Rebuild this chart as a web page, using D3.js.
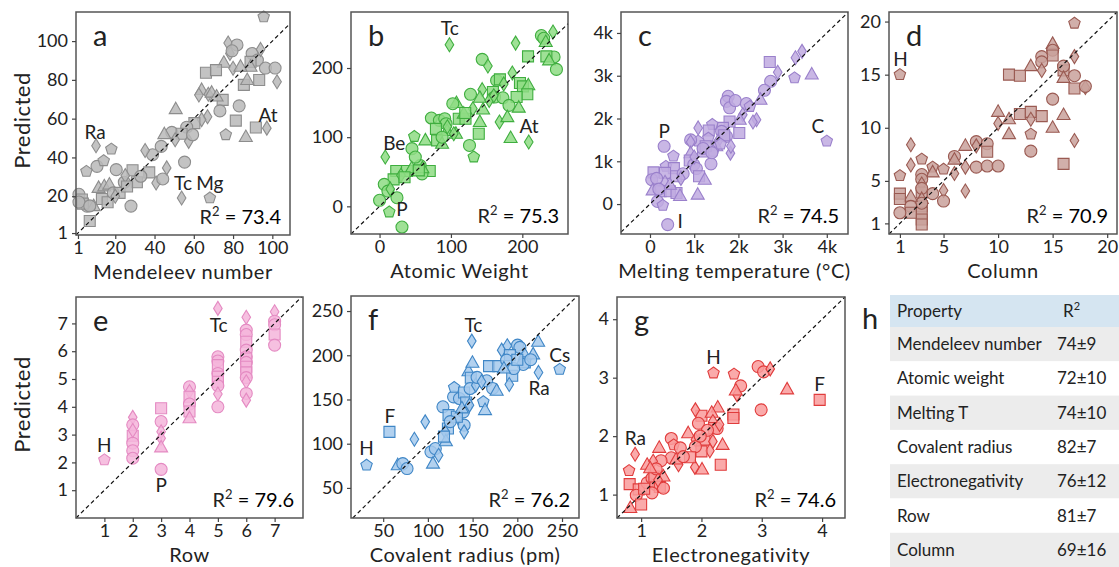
<!DOCTYPE html>
<html>
<head>
<meta charset="utf-8">
<script src="https://cdn.jsdelivr.net/npm/d3@7"></script>
<style>
  body { margin: 0; background: #fff; }
  svg text { font-family: Lato, "Open Sans", sans-serif; fill: #222; }
</style>
</head>
<body>
<svg id="fig" width="1119" height="567"></svg>
<script>
// shape codes: o circle, s square, ^ triangle, d diamond, p pentagon
// [actual, predicted, shape]
const mendeleevPts = [
  [95.6,112.5,"p"],[77.5,99,"d"],[82,98,"o"],[78.4,93.6,"d"],[79.5,95,"o"],[75.3,88.8,"^"],[66.2,83.7,"s"],[71.3,85,"s"],
  [80,86,"d"],[89.7,93.6,"o"],[92.4,90.2,"o"],[94,95.7,"d"],[88.9,89.3,"s"],[88.9,86.8,"^"],[83.8,86.8,"^"],[96.5,86.1,"o"],
  [101.4,86.1,"o"],[85.5,77.4,"s"],[93.3,79.9,"s"],[87.2,79.9,"^"],[102.4,79,"d"],[64,74.8,"^"],[67.4,72.6,"d"],[62.6,72.2,"d"],
  [69.1,73.4,"^"],[74.7,69.7,"s"],[71.6,71.4,"^"],[73.3,64,"o"],[83.1,66.6,"o"],[81.4,59,"s"],[91.6,55.4,"s"],[97.2,55.1,"d"],
  [86.5,50.5,"^"],[76.3,51.7,"p"],[67,61,"d"],[64,59.5,"d"],[60.3,57.7,"s"],[50.8,64.9,"^"],[56.4,55.6,"o"],[48.8,52.9,"o"],
  [45,52,"^"],[53.8,52.2,"s"],[50.5,49.1,"d"],[57.4,48.3,"d"],[59.4,51.7,"o"],[39,41.4,"o"],[35.2,43.6,"d"],[43.4,45.7,"o"],
  [37.3,32.3,"s"],[28.8,33.4,"s"],[31,27.2,"s"],[33,30.3,"o"],[40.8,26.8,"d"],[44.2,28.9,"o"],[46.2,34.6,"d"],[55.3,37.6,"o"],
  [53.8,19.1,"d"],[68.2,19.1,"p"],[20.5,33.7,"o"],[10.7,35.4,"o"],[5.3,32.8,"p"],[14.1,38.3,"p"],[18,44.3,"p"],[10.2,46,"d"],
  [5.6,14.9,"o"],[1.5,21,"o"],[3,18.3,"s"],[3.5,16.2,"s"],[9,14.9,"^"],[11.5,24.3,"^"],[14.4,25.1,"^"],[17,26,"^"],
  [13.2,18.6,"s"],[16.1,16.9,"s"],[19,21.7,"o"],[22.2,21.7,"s"],[24.6,27.2,"o"],[25.1,30.6,"d"],[7,7.2,"s"],[28,14.9,"o"],
  [20,20,"d"],[26,25,"s"],[1.5,17,"o"],[7,15,"o"]
];
const weightPts = [
  [97.9,233.7,"d"],[190.6,236,"d"],[226.7,247,"o"],[230,243,"o"],[232.8,237.6,"^"],[243,252,"d"],[244.5,216,"o"],[233.7,216.9,"s"],
  [237.5,211,"^"],[247.8,198,"o"],[208,216.9,"s"],[143.8,212.5,"o"],[151.8,202.9,"d"],[186,192.8,"d"],[164,182,"o"],[168.6,183.6,"s"],
  [174,177,"d"],[196.7,178.3,"s"],[200.9,173.5,"s"],[208.4,175,"^"],[207,162,"s"],[192,158,"s"],[195,142.7,"^"],[143.8,168.7,"d"],
  [140.5,157,"^"],[158.8,165.3,"s"],[161.1,158,"o"],[153.6,153,"d"],[172.8,157,"o"],[181.3,146,"o"],[127.4,162,"o"],[107.7,149.4,"^"],
  [102.6,148.4,"o"],[130.7,141,"d"],[111,126.7,"s"],[120.4,126.7,"s"],[118,134,"^"],[140.5,122,"^"],[168,122,"d"],[179,129,"^"],
  [139,105,"s"],[183.6,98.8,"^"],[209,93,"d"],[72.6,127.7,"o"],[83.8,124.3,"o"],[91.3,126.7,"o"],[93.2,119.5,"o"],[79,112,"s"],
  [94.6,108.9,"^"],[107,105,"^"],[126,88,"o"],[132,71.3,"p"],[104,105,"d"],[64.2,95.4,"^"],[48.7,101,"p"],[45.4,83.4,"o"],
  [80.6,95.4,"s"],[87.6,90.6,"^"],[87.6,100,"o"],[23.4,51,"s"],[38.4,51,"s"],[70.3,51,"s"],[19.7,39,"s"],[57,59,"o"],
  [59.5,47,"o"],[50.1,71.3,"o"],[8,71.3,"d"],[6.6,31.8,"o"],[11.7,22,"o"],[24.4,12.5,"o"],[0,8.7,"o"],[13.6,-8.2,"p"],
  [31.4,-29.9,"o"],[30,45,"d"],[45,55,"^"],[60,55,"^"],[15,25,"d"],[35,42,"s"],[55,52,"s"],[95,115,"d"],
  [120,135,"s"],[145,140,"^"],[160,160,"d"]
];
const meltingPts = [
  [3440,3570,"d"],[3290,3420,"d"],[2710,3320,"s"],[2890,3080,"d"],[3270,2950,"p"],[3660,3030,"^"],[2730,2870,"o"],[2590,2660,"o"],
  [2500,2440,"^"],[1770,2520,"o"],[1730,2400,"o"],[1800,2250,"o"],[1930,2420,"o"],[2180,2350,"o"],[2260,2280,"p"],[2100,2090,"d"],
  [2030,1970,"^"],[2410,1970,"d"],[2330,1920,"d"],[1800,1930,"s"],[1650,1780,"s"],[2020,1660,"s"],[1090,1780,"d"],[1410,1860,"p"],
  [1330,1720,"s"],[1620,1700,"o"],[1730,1580,"o"],[1680,1610,"s"],[1540,1470,"d"],[1200,1230,"s"],[1090,1470,"p"],[920,1500,"o"],
  [920,1450,"d"],[1320,1540,"p"],[1820,1190,"d"],[1830,1350,"d"],[1500,1350,"^"],[1430,1230,"p"],[1260,1350,"s"],[920,1190,"^"],
  [900,1020,"s"],[990,920,"o"],[1050,830,"o"],[1380,940,"o"],[1110,650,"s"],[1240,570,"^"],[1080,220,"^"],[320,1350,"o"],
  [530,1120,"p"],[360,880,"p"],[540,840,"s"],[80,740,"s"],[340,730,"s"],[40,570,"o"],[340,510,"^"],[590,650,"s"],
  [750,710,"o"],[60,320,"^"],[240,300,"s"],[450,300,"s"],[600,260,"s"],[680,190,"^"],[170,60,"o"],[290,-30,"p"],
  [400,-480,"o"],[4000,1470,"p"],[1200,1300,"o"],[1000,1100,"d"],[1400,1200,"o"],[1600,1400,"p"],[700,600,"d"],[150,600,"o"],
  [450,450,"^"],[200,350,"o"]
];
const columnPts = [
  [1,15,"p"],[17,19.84,"p"],[15,17.9,"^"],[15,17.3,"o"],[15,16.8,"s"],[17,16.7,"d"],[14,16.7,"o"],[14,16.2,"o"],
  [14,15.4,"d"],[13,15.8,"^"],[11,15,"s"],[12,14.9,"s"],[16,15.4,"s"],[16,15.8,"o"],[16,14.7,"^"],[17,14.9,"o"],
  [17,13.7,"s"],[18,13.8,"d"],[18,13.9,"o"],[15,12.7,"o"],[16,11.2,"^"],[17,8.8,"d"],[16,6.6,"s"],[12,11.3,"s"],
  [13,11.5,"s"],[13,10.8,"d"],[14,11.1,"s"],[15,10,"^"],[13,9.4,"p"],[13,7.8,"o"],[10,11.5,"^"],[10,10.4,"d"],
  [11,10.8,"^"],[11,9.4,"^"],[7,8.3,"^"],[8,8.7,"o"],[8,8.3,"d"],[9,8.5,"o"],[9,7.75,"s"],[8,6.3,"o"],
  [9,6.4,"o"],[10,6.4,"o"],[7,6.3,"d"],[7,4.05,"d"],[6,7.3,"o"],[6,7,"^"],[6,5.7,"d"],[5,6.1,"p"],
  [5,4.1,"d"],[5,3.1,"o"],[4,6.3,"p"],[4,5.8,"^"],[4,3.8,"o"],[3,7.05,"p"],[3,5.6,"o"],[3,5.15,"o"],
  [3,4.7,"d"],[3,3.9,"s"],[3,4.3,"o"],[3,3.3,"^"],[3,2.6,"s"],[3,2.0,"s"],[3,1.37,"s"],[3,0.9,"s"],
  [3,2.9,"o"],[2,8.4,"d"],[2,6.5,"d"],[2,3.5,"^"],[2,2.6,"o"],[2,2.0,"s"],[1,5.5,"p"],[1,3.8,"s"],
  [1,3.3,"s"],[1,2.0,"o"]
];
const rowPts = [
  [1,2.09,"p"],[2,3.62,"d"],[2,3.35,"o"],[2,2.96,"s"],[2,2.69,"o"],[2,2.42,"o"],[2,2.15,"o"],[2,3.15,"d"],
  [3,3.95,"s"],[3,3.47,"o"],[3,3.1,"d"],[3,2.87,"d"],[3,2.54,"^"],[3,1.75,"o"],[4,4.72,"o"],[4,4.55,"d"],
  [4,4.36,"s"],[4,4.1,"o"],[4,3.83,"s"],[4,3.59,"^"],[5,7.54,"d"],[5,5.8,"o"],[5,5.65,"o"],[5,5.5,"s"],
  [5,5.2,"o"],[5,5.08,"s"],[5,4.9,"s"],[5,4.76,"o"],[5,4.46,"d"],[5,4.0,"o"],[6,7.22,"d"],[6,6.76,"o"],
  [6,6.6,"o"],[6,6.34,"s"],[6,6.04,"o"],[6,5.8,"o"],[6,5.74,"s"],[6,5.6,"o"],[6,5.44,"s"],[6,5.24,"s"],
  [6,5.05,"o"],[6,4.9,"d"],[6,4.48,"o"],[6,4.24,"d"],[7,7.42,"d"],[7,7.08,"o"],[7,6.95,"o"],[7,6.6,"s"],
  [7,6.22,"o"]
];
const radiusPts = [
  [31.4,75.7,"p"],[57,113.4,"s"],[66.3,75.7,"^"],[71.9,77.5,"o"],[76.7,71.9,"o"],[84.9,105,"d"],[97,124.7,"d"],[103.4,90.8,"o"],
  [108.3,94.5,"o"],[112,87,"d"],[105.7,77.5,"^"],[116.8,141.7,"o"],[123.1,132.3,"s"],[122.4,117.2,"s"],[119.4,113.4,"d"],[120.1,102.8,"^"],
  [128.7,153,"o"],[129.4,163.6,"p"],[135.3,151.1,"o"],[140.5,157.9,"s"],[142.8,146.6,"s"],[134.2,128.5,"d"],[140.5,121,"o"],[140.5,113.4,"d"],
  [139.8,136,"o"],[132.4,130.4,"s"],[146.5,143.6,"d"],[145.4,182,"^"],[149.8,191.5,"^"],[149.1,216,"d"],[148,174.5,"s"],[147.2,162.4,"o"],
  [153.5,166.2,"d"],[168.4,187.7,"s"],[178.8,187.7,"s"],[165.8,171.1,"o"],[172.4,162.5,"o"],[176.9,159.8,"^"],[162,147.4,"p"],[163.9,138,"^"],
  [182.5,205.8,"d"],[188.8,210.8,"d"],[200.3,211.5,"o"],[202.9,208.9,"o"],[191.7,200.2,"s"],[188,194.5,"o"],[208.4,200.2,"^"],[208.4,191.9,"s"],
  [206.6,189.6,"o"],[194.3,176.8,"s"],[191,167,"d"],[217.7,201,"^"],[223.3,215.3,"^"],[223.7,180.6,"d"],[247.4,184,"p"],[196,185,"o"],
  [185,185,"^"],[200,195,"s"],[155,175,"o"],[138,140,"^"],[125,125,"o"],[118,108,"s"],[160,170,"d"],[215,195,"o"]
];
const electroPts = [
  [2.2,3.08,"p"],[2.54,3.06,"p"],[2.94,3.19,"o"],[3.03,3.1,"o"],[3.14,3.15,"d"],[3.42,2.8,"^"],[3.96,2.62,"s"],[2.99,2.45,"o"],
  [2.65,2.86,"o"],[2.59,2.71,"d"],[2.57,2.78,"^"],[2.27,2.49,"^"],[2,2.35,"s"],[1.9,2.45,"d"],[1.95,2.22,"o"],[2.17,2.4,"^"],
  [2.19,2.25,"d"],[2.21,2.14,"s"],[2.26,2.13,"o"],[2.53,2.37,"s"],[2.53,2.31,"s"],[1.78,2.05,"^"],[2.05,1.94,"s"],[2.19,1.91,"d"],
  [2.35,1.85,"^"],[2.14,1.75,"d"],[2,1.74,"s"],[2.32,1.51,"s"],[2.01,1.43,"^"],[1.89,1.47,"d"],[1.9,1.94,"d"],[1.9,1.82,"o"],
  [1.5,1.96,"o"],[1.54,1.85,"p"],[1.65,1.8,"o"],[1.81,1.64,"s"],[1.5,1.63,"o"],[1.62,1.51,"d"],[1.58,1.6,"^"],[0.9,1.69,"d"],
  [0.8,1.41,"p"],[1.3,1.8,"^"],[0.81,1.18,"s"],[0.96,1.09,"s"],[0.92,0.99,"o"],[1.0,0.83,"s"],[0.82,0.77,"^"],[1.1,1.2,"o"],
  [1.18,1.28,"o"],[1.24,1.17,"o"],[1.22,1.31,"s"],[1.31,1.13,"s"],[1.18,1.03,"o"],[1.37,1.11,"o"],[1.1,1.51,"^"],[1.33,1.58,"o"],
  [1.2,1.57,"d"],[1.37,1.31,"^"],[1.25,1.44,"o"],[1.15,1.45,"^"],[1.05,1.1,"s"],[1.28,1.25,"d"],[1.7,1.65,"o"],[2.1,2.1,"o"],
  [2.3,2.2,"d"],[1.98,2.0,"o"]
];

// element annotations [text, x, y] in data units
const mendeleevNotes = [["Ra",9.7,53],["Tc",54.5,26.8],["Mg",68.2,26.8],["At",97.8,61.9]];
const weightNotes = [["Tc",98.4,256.9],["Be",20.6,91.6],["P",31.4,-4.8],["At",209.4,115.7]];
const meltingNotes = [["P",323,1700],["C",3800,1820],["I",680,-405]];
const columnNotes = [["H",1.06,16.4]];
const rowNotes = [["H",1,2.63],["Tc",5.03,6.94],["P",3,1.19]];
const radiusNotes = [["Tc",150.9,233.4],["F",57.4,130.4],["H",31.4,94.5],["Cs",247.4,200.2],["Ra",224.4,162.5]];
const electroNotes = [["H",2.2,3.35],["F",3.96,2.89],["Ra",0.906,1.96]];

const r2Values = [73.4, 75.3, 74.5, 70.9, 79.6, 76.2, 74.6];
const panelLetters = ["a","b","c","d","e","f","g"];
const xLabels = ["Mendeleev number","Atomic Weight","Melting temperature (\u00b0C)","Column","Row","Covalent radius (pm)","Electronegativity"];

const tableProps = ["Mendeleev number","Atomic weight","Melting T","Covalent radius","Electronegativity","Row","Column"];
const tableR2 = ["74\u00b19","72\u00b110","74\u00b110","82\u00b17","76\u00b112","81\u00b17","69\u00b116"];

const kFmt = d => d === 0 ? "0" : (d / 1000) + "k";

const panels = [
  {pts: mendeleevPts, notes: mendeleevNotes, left: 76, right: 290, top: 12, bottom: 235,
   xd: [0,109], yd: [0,115], xt: [1,20,40,60,80,100], yt: [1,20,40,60,80,100], fill: "#b8b8b8", stroke: "#8d8d8d", ylab: true},
  {pts: weightPts, notes: weightNotes, left: 351, right: 568, top: 12, bottom: 234,
   xd: [-40,264], yd: [-40,281], xt: [0,100,200], yt: [0,100,200], fill: "#8edc84", stroke: "#3fae3f"},
  {pts: meltingPts, notes: meltingNotes, left: 621, right: 848, top: 12, bottom: 234,
   xd: [-656,4480], yd: [-700,4490], xt: [0,1000,2000,3000,4000], yt: [0,1000,2000,3000,4000], fmt: kFmt, fill: "#bfaae0", stroke: "#9a80cb"},
  {pts: columnPts, notes: columnNotes, left: 889, right: 1117, top: 12, bottom: 234,
   xd: [0,20.9], yd: [0,20.9], xt: [1,5,10,15,20], yt: [1,5,10,15,20], fill: "#c9a19b", stroke: "#9a5a52"},
  {pts: rowPts, notes: rowNotes, left: 76, right: 303, top: 297, bottom: 518,
   xd: [0,8], yd: [0,7.95], xt: [1,2,3,4,5,6,7], yt: [1,2,3,4,5,6,7], fill: "#f5b5da", stroke: "#e48ac2", ylab: true},
  {pts: radiusPts, notes: radiusNotes, left: 351, right: 579, top: 296, bottom: 518,
   xd: [14,269], yd: [16,267], xt: [50,100,150,200,250], yt: [50,100,150,200,250], fill: "#a5c9ec", stroke: "#3f86c6"},
  {pts: electroPts, notes: electroNotes, left: 617, right: 845, top: 297, bottom: 518,
   xd: [0.6,4.38], yd: [0.6,4.38], xt: [1,2,3,4], yt: [1,2,3,4], fill: "#f99b9b", stroke: "#e03c3c"}
];

// marker outlines, roughly matplotlib o s ^ d p
function shapePath(code) {
  const p = d3.path();
  if (code === "o") { p.arc(0, 0, 6, 0, 2 * Math.PI); }
  else if (code === "s") { p.rect(-5.5, -5.5, 11, 11); }
  else if (code === "^") { p.moveTo(0, -7); p.lineTo(6.5, 4.5); p.lineTo(-6.5, 4.5); p.closePath(); }
  else if (code === "d") { p.moveTo(0, -7); p.lineTo(4.3, 0); p.lineTo(0, 7); p.lineTo(-4.3, 0); p.closePath(); }
  else {
    for (let i = 0; i < 5; i++) {
      const a = -Math.PI / 2 + i * 2 * Math.PI / 5;
      if (i === 0) p.moveTo(6 * Math.cos(a), 6 * Math.sin(a));
      else p.lineTo(6 * Math.cos(a), 6 * Math.sin(a));
    }
    p.closePath();
  }
  return p.toString();
}

const svg = d3.select("#fig");

panels.forEach(function(p, i) {
  const x = d3.scaleLinear().domain(p.xd).range([p.left, p.right]);
  const y = d3.scaleLinear().domain(p.yd).range([p.bottom, p.top]);
  const g = svg.append("g").attr("class", "panel");

  g.selectAll("path.pt").data(p.pts).join("path")
    .attr("class", "pt")
    .attr("transform", d => "translate(" + x(d[0]) + "," + y(d[1]) + ")")
    .attr("d", d => shapePath(d[2]))
    .attr("fill", p.fill)
    .attr("fill-opacity", 0.85)
    .attr("stroke", p.stroke)
    .attr("stroke-width", 1.1);

  // y = x reference line
  const lo = Math.max(p.xd[0], p.yd[0]), hi = Math.min(p.xd[1], p.yd[1]);
  g.append("line")
    .attr("x1", x(lo)).attr("y1", y(lo)).attr("x2", x(hi)).attr("y2", y(hi))
    .attr("stroke", "#111").attr("stroke-width", 1.2).attr("stroke-dasharray", "4,3");

  g.append("rect")
    .attr("x", p.left).attr("y", p.top)
    .attr("width", p.right - p.left).attr("height", p.bottom - p.top)
    .attr("fill", "none").attr("stroke", "#555").attr("stroke-width", 1.5);

  const fmt = p.fmt || d3.format("d");
  const xa = g.append("g").attr("transform", "translate(0," + p.bottom + ")")
    .call(d3.axisBottom(x).tickValues(p.xt).tickFormat(fmt).tickSize(4).tickPadding(2));
  const ya = g.append("g").attr("transform", "translate(" + p.left + ",0)")
    .call(d3.axisLeft(y).tickValues(p.yt).tickFormat(fmt).tickSize(4).tickPadding(4));
  [xa, ya].forEach(function(a) {
    a.select(".domain").remove();
    a.selectAll("line").attr("stroke", "#444").attr("stroke-width", 1.2);
    a.selectAll("text").style("font-size", "18px").attr("fill", "#222");
  });

  g.append("text")
    .attr("x", (p.left + p.right) / 2).attr("y", p.bottom + 44)
    .attr("text-anchor", "middle").style("font-size", "20px").style("letter-spacing", "0.6px")
    .text(xLabels[i]);

  if (p.ylab) {
    g.append("text")
      .attr("transform", "translate(30," + ((p.top + p.bottom) / 2 - 3) + ") rotate(-90)")
      .attr("text-anchor", "middle").style("font-size", "22px").style("letter-spacing", "0.5px")
      .text("Predicted");
  }

  g.append("text")
    .attr("x", p.left + 17).attr("y", p.top + 34)
    .style("font-size", "29px")
    .text(panelLetters[i]);

  g.selectAll("text.note").data(p.notes).join("text")
    .attr("class", "note")
    .attr("x", d => x(d[1])).attr("y", d => y(d[2]))
    .attr("dy", "0.35em").attr("text-anchor", "middle")
    .style("font-size", "19px")
    .text(d => d[0]);

  const r2 = g.append("text")
    .attr("x", p.right - 9).attr("y", p.bottom - 11)
    .attr("text-anchor", "end").style("font-size", "20px");
  r2.append("tspan").text("R");
  r2.append("tspan").attr("dy", -8).style("font-size", "13px").text("2");
  r2.append("tspan").attr("dy", 8).attr("fill", "#000").text(" = " + r2Values[i]);
});

// panel h: table
const tb = svg.append("g");
const tLeft = 890, tRight = 1119, tTop = 295, headH = 32, rowH = 34.3;
tb.append("text").attr("x", 862).attr("y", 329).style("font-size", "29px").text("h");
tb.append("rect").attr("x", tLeft).attr("y", tTop).attr("width", tRight - tLeft).attr("height", headH).attr("fill", "#d5e5f1");
tb.append("text").attr("x", 897).attr("y", tTop + headH / 2).attr("dy", "0.35em").style("font-size", "17px").text("Property");
const hr = tb.append("text").attr("x", 1063).attr("y", tTop + headH / 2).attr("dy", "0.35em").style("font-size", "17px");
hr.append("tspan").text("R");
hr.append("tspan").attr("dy", -7).style("font-size", "11px").text("2");

const rows = tb.selectAll("g.row").data(tableProps).join("g")
  .attr("class", "row")
  .attr("transform", (d, i) => "translate(0," + (tTop + headH + i * rowH) + ")");
rows.append("rect")
  .attr("x", tLeft).attr("width", tRight - tLeft).attr("height", rowH)
  .attr("fill", (d, i) => i % 2 === 0 ? "#ececec" : "#ffffff");
rows.append("text")
  .attr("x", 897).attr("y", rowH / 2).attr("dy", "0.35em")
  .style("font-size", "17px").text(d => d);
rows.append("text")
  .attr("x", 1057).attr("y", rowH / 2).attr("dy", "0.35em")
  .style("font-size", "17px").text((d, i) => tableR2[i]);
</script>
</body>
</html>
